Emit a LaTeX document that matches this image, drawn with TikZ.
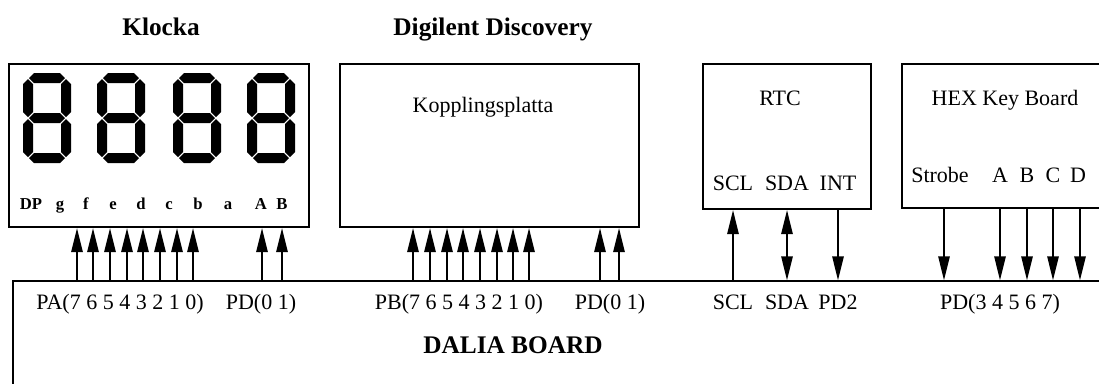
\documentclass[tikz,border=0pt]{standalone}
\usepackage{fontspec}
\setmainfont{Liberation Serif}
\usetikzlibrary{positioning, fit, arrows.meta}

\tikzset{
	box/.style={draw, line width=1.6pt, inner sep=0pt},
	pin/.style={line width=1.3pt, -{Triangle[length=18pt, width=8.5pt]}},
	title/.style={font=\fontsize{19}{22}\selectfont\bfseries, anchor=base},
	txt/.style={font=\fontsize{16.5}{19}\selectfont, anchor=base, inner sep=0pt},
	seglbl/.style={font=\fontsize{12.5}{14}\selectfont\bfseries, anchor=base, inner sep=0pt},
}

\begin{document}
\begin{tikzpicture}[x=0.75pt, y=-0.75pt]

	\useasboundingbox (0,0) rectangle (1099,383);
	\clip (0,0) rectangle (1099,383);

	\node [box, line width=1pt, fit={(13,281) (1140,420)}] (board) {};
	\node [box, fit={(9,64) (309,227)}] (klocka) {};
	\node [box, fit={(340,64) (639,227)}] (digilent) {};
	\node [box, fit={(703,64) (871,209)}] (rtc) {};
	\node [box, fit={(902,64) (1140,208)}] (hex) {};

	\node [title] (klockaT) at (161,35) {Klocka};
	\node [title] (digilentT) at (493,35) {Digilent Discovery};
	\node [title] (dalia) at (513,353) {DALIA BOARD};

	\foreach \dx in {23,97,173,247}
	{
	\begin{scope}[shift={(\dx,73)}]
	\foreach \yc in {5,45,85}
		\fill (6,\yc) -- ++(5,-5) -- ++(26,0) -- ++(5,5) -- ++(-5,5) -- ++(-26,0) -- cycle;
	\foreach \xc in {5,43}
	\foreach \ya in {6,46}
		\fill (\xc,\ya) -- ++(5,5) -- ++(0,28) -- ++(-5,5) -- ++(-5,-5) -- ++(0,-28) -- cycle;
	\end{scope}
	}

	\foreach \lbl/\x in {DP/31, g/60, f/86, e/113, d/141, c/169, b/198, a/228, A/261, B/282}
		\node [seglbl] (seg\lbl) at (\x,209) {\lbl};

	\node [txt] (koppling) at (483,112) {Kopplingsplatta};
	\node [txt] (rtcT) at (780,105) {RTC};
	\node [txt] (hexT) at (1005,105) {HEX Key Board};

	\node [txt] (scl) at (733,190) {SCL};
	\node [txt] (sda) at (787,190) {SDA};
	\node [txt] (int) at (838,190) {INT};

	\node [txt] (strobe) at (940,182) {Strobe};
	\foreach \lbl/\x in {A/1000, B/1027, C/1053, D/1078}
		\node [txt] (key\lbl) at (\x,182) {\lbl};

	\node [txt] (pa) at (120,309) {PA(7 6 5 4 3 2 1 0)};
	\node [txt] (pd1) at (261,309) {PD(0 1)};
	\node [txt] (pb) at (459,309) {PB(7 6 5 4 3 2 1 0)};
	\node [txt] (pd2) at (610,309) {PD(0 1)};
	\node [txt] (sclB) at (733,309) {SCL};
	\node [txt] (sdaB) at (787,309) {SDA};
	\node [txt] (pdInt) at (838,309) {PD2};
	\node [txt] (pdKey) at (1000,309) {PD(3 4 5 6 7)};

	\foreach \x in {77,93,110,127,143,160,177,193,262,282}
		\draw [pin] (board.north -| \x,0) -- (klocka.south -| \x,0);
	\foreach \x in {413,430,447,463,480,497,513,529,600,619}
		\draw [pin] (board.north -| \x,0) -- (digilent.south -| \x,0);

	\draw [pin] (board.north -| scl) -- (rtc.south -| scl);
	\draw [pin, {Triangle[length=18pt, width=8.5pt]}-{Triangle[length=18pt, width=8.5pt]}] (board.north -| sda) -- (rtc.south -| sda);
	\draw [pin] (rtc.south -| int) -- (board.north -| int);

	\foreach \x in {944,1000,1027,1053,1080}
		\draw [pin] (hex.south -| \x,0) -- (board.north -| \x,0);

\end{tikzpicture}
\end{document}
